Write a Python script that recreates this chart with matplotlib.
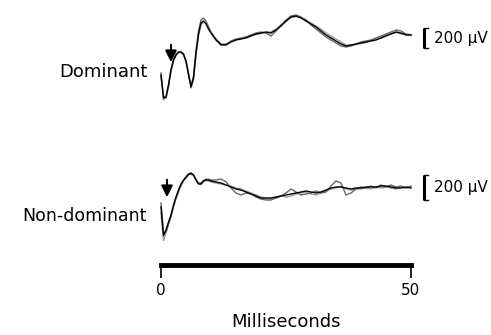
import numpy as np
import matplotlib.pyplot as plt

# Data (time in ms, amplitude in microvolts)
time_ms = [0, 0.5, 1, 1.5, 2, 2.5, 3, 3.5, 4, 4.5, 5, 5.5, 6, 6.5, 7, 7.5, 8, 8.5, 9, 9.5, 10,
           11, 12, 13, 14, 15, 16, 17, 18, 19, 20, 21, 22, 23, 24, 25, 26, 27, 28, 29, 30,
           31, 32, 33, 34, 35, 36, 37, 38, 39, 40, 41, 42, 43, 44, 45, 46, 47, 48, 49, 50]

dominant_1 = [-350, -580, -570, -450, -300, -200, -150, -120, -120, -140, -210, -340, -470, -380, -130, 60, 170, 190, 160, 110, 70,
              0, -50, -50, -20, 0, 10, 20, 40, 60, 70, 80, 70, 100, 140, 190, 230, 240, 220, 190, 160,
              130, 90, 50, 20, -10, -40, -60, -50, -40, -30, -20, -10, 0, 20, 40, 60, 80, 70, 50, 50]
dominant_2 = [-330, -560, -580, -470, -310, -210, -150, -125, -125, -150, -220, -350, -460, -360, -100, 90, 200, 220, 190, 130, 80,
              10, -40, -45, -10, 10, 20, 30, 50, 70, 80, 70, 40, 90, 150, 200, 240, 250, 230, 200, 150,
              110, 70, 30, 0, -30, -60, -70, -60, -40, -20, -10, 0, 20, 40, 60, 80, 100, 90, 60, 50]
dominant_3 = [-370, -600, -560, -440, -290, -195, -145, -118, -118, -138, -205, -330, -480, -400, -150, 40, 150, 180, 170, 120, 75,
              5, -45, -40, -15, 5, 15, 30, 45, 55, 65, 75, 80, 110, 150, 185, 225, 235, 225, 200, 170,
              140, 110, 70, 40, 10, -20, -50, -55, -45, -35, -25, -5, 10, 30, 50, 70, 75, 60, 55, 55]

nondominant_1 = [-152, -380, -336, -272, -216, -136, -72, -16, 32, 64, 88, 112, 120, 104, 64, 32, 32, 56, 64, 64, 56,
                 48, 40, 24, 8, -8, -16, -32, -48, -64, -80, -80, -80, -72, -64, -56, -48, -40, -32, -24, -32,
                 -40, -32, -16, 0, 8, 8, 0, -8, 0, 0, 8, 8, 8, 16, 16, 8, 0, 0, 8, 0]
nondominant_2 = [-120, -360, -350, -290, -230, -150, -85, -30, 20, 56, 80, 104, 112, 100, 70, 40, 40, 60, 70, 70, 64,
                 64, 72, 48, 0, -40, -56, -40, -48, -72, -88, -96, -96, -80, -64, -40, -8, -32, -56, -48, -40,
                 -24, -40, -32, 16, 56, 40, -56, -40, -8, 8, 0, 16, 0, 24, 8, 24, 8, 16, 0, 16]
nondominant_3 = [-200, -420, -360, -290, -225, -150, -80, -24, 24, 60, 84, 110, 118, 106, 70, 36, 28, 50, 60, 56, 48,
                 40, 32, 24, 16, 0, -8, -24, -40, -56, -72, -88, -88, -80, -64, -72, -64, -48, -40, -32, -48,
                 -56, -40, -24, -8, 0, 16, -8, -16, -8, -8, 0, -8, 8, 0, 8, 0, -8, 8, 0, 8]

stim_time = [2.0, 1.2]      # arrow positions (ms)
scale_uv = 200
time_ticks = [0, 50]

trace_colors = ['black', '#666666', '#999999']

fig = plt.figure(figsize=(4.91, 3.35), dpi=100)
fig.patch.set_facecolor('white')

# one transparent axes per panel, both spanning the whole figure
ax_top = fig.add_axes([0, 0, 1, 1])
ax_bot = fig.add_axes([0, 0, 1, 1])
for ax in (ax_top, ax_bot):
    ax.set_xlim(-32.2, 66)
    ax.axis('off')
    ax.patch.set_alpha(0)
ax_top.set_ylim(-2950, 400)
ax_bot.set_ylim(-1176, 1504)

# Drawing the traces
for sweep, c in zip([dominant_3, dominant_2, dominant_1], trace_colors[::-1]):
    ax_top.plot(time_ms, sweep, color=c, lw=1.0)
for sweep, c in zip([nondominant_3, nondominant_2, nondominant_1], trace_colors[::-1]):
    ax_bot.plot(time_ms, sweep, color=c, lw=1.0)

# Stimulus arrows
ax_top.annotate('', xy=(stim_time[0], -250), xytext=(stim_time[0], -20),
                arrowprops=dict(arrowstyle='-|>', color='black', lw=1.5, mutation_scale=17))
ax_bot.annotate('', xy=(stim_time[1], -96), xytext=(stim_time[1], 88),
                arrowprops=dict(arrowstyle='-|>', color='black', lw=1.5, mutation_scale=17))

# Amplitude scale brackets
def scale_bar(ax, bottom):
    top = bottom + scale_uv
    ax.plot([52.5, 52.5], [bottom, top], color='black', lw=2.2, solid_capstyle='butt')
    ax.plot([52.5, 53.3], [top, top], color='black', lw=1)
    ax.plot([52.5, 53.3], [bottom, bottom], color='black', lw=1)
    ax.text(54.6, bottom + scale_uv / 2, '200 \u03bcV', fontsize=11, va='center', ha='left')

scale_bar(ax_top, -80)
scale_bar(ax_bot, -96)

# Panel labels
ax_top.text(-2.6, -320, 'Dominant', fontsize=13, ha='right', va='center')
ax_bot.text(-2.8, -224, 'Non-dominant', fontsize=12.5, ha='right', va='center')

# Time scale bar
ax_t = fig.add_axes([161 / 491, 1 - 264.5 / 335, 250 / 491, 0.05])
ax_t.set_xlim(time_ticks[0], time_ticks[-1])
ax_t.patch.set_alpha(0)
for s in ['top', 'left', 'right']:
    ax_t.spines[s].set_visible(False)
ax_t.spines['bottom'].set_linewidth(3.5)
ax_t.set_yticks([])
ax_t.set_xticks(time_ticks)
ax_t.tick_params(axis='x', direction='out', length=9, width=1.2, pad=4, labelsize=11)
ax_t.set_xlabel('Milliseconds', fontsize=13, labelpad=11)

plt.savefig('out.png', dpi=100)
